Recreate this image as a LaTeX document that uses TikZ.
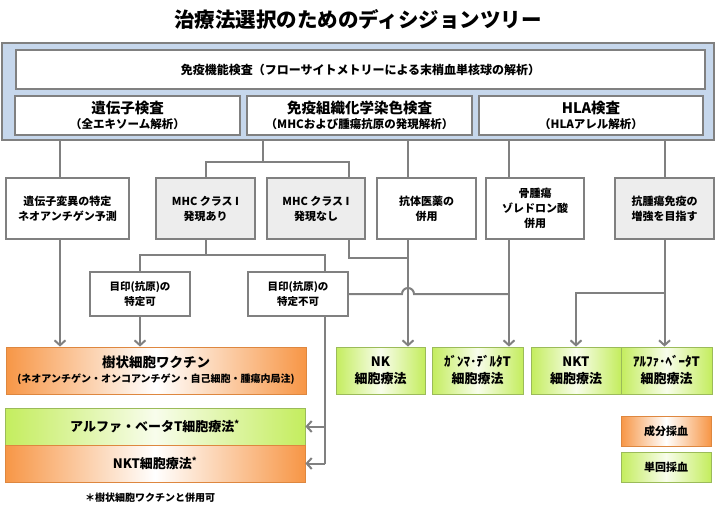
\documentclass[tikz,border=0pt]{standalone}
\usepackage{fontspec}
\setmainfont{Noto Sans CJK JP}
\usetikzlibrary{positioning,arrows.meta}
\definecolor{linegray}{HTML}{808080}
\definecolor{panelblue}{HTML}{C6D7EC}
\definecolor{boxgray}{HTML}{EDEDED}
\definecolor{orangefill}{HTML}{F79646}
\definecolor{greenfill}{HTML}{C4ED5E}
\definecolor{greenline}{HTML}{9BBB59}

\begin{document}
\begin{tikzpicture}
    [x=1pt,y=-1pt,
     box/.style={draw=linegray, line width=1.3pt, fill=white, align=center, inner sep=0pt, font=\fontsize{11}{15}\selectfont\bfseries},
     greybox/.style={box, fill=boxgray},
     orangebox/.style={box, draw=orangefill!90!black, line width=0.8pt, left color=orangefill, right color=orangefill, middle color=white},
     greenbox/.style={box, draw=greenline, line width=0.8pt, left color=greenfill, right color=greenfill, middle color=greenfill!12},
     link/.style={draw=linegray, line width=2pt},
     arrow/.style={link, -{Straight Barb[length=5pt,width=11pt,line width=2pt]}}]
  \useasboundingbox (0,0) rectangle (720,514);

  \node[font=\fontsize{20.5}{24}\selectfont\bfseries] (title) at (358,20) {治療法選択のためのディシジョンツリー};

  \node[draw=linegray, line width=1.3pt, fill=panelblue, minimum width=712pt, minimum height=97pt, inner sep=0pt] (panel) at (358,91.5) {};
  \node[box, minimum width=689pt, minimum height=39pt, font=\fontsize{12}{15}\selectfont\bfseries] (flow) at (360.5,69.5) {免疫機能検査（フローサイトメトリーによる末梢血単核球の解析）};
  \node[box, minimum width=225pt, minimum height=39pt] (gene) at (127.5,115.5) {\fontsize{14.5}{17}\selectfont 遺伝子検査\\\fontsize{11.5}{15}\selectfont （全エキソーム解析）};
  \node[box, minimum width=225pt, minimum height=39pt] (ihc) at (359.5,115.5) {\fontsize{14.5}{17}\selectfont 免疫組織化学染色検査\\\fontsize{11.5}{15}\selectfont （MHCおよび腫瘍抗原の発現解析）};
  \node[box, minimum width=224pt, minimum height=39pt] (hla) at (591,115.5) {\fontsize{14.5}{17}\selectfont HLA検査\\\fontsize{11.5}{15}\selectfont （HLAアレル解析）};

  \node[box, minimum width=123pt, minimum height=61pt] (mut) at (67.5,208.5) {遺伝子変異の特定\\ネオアンチゲン予測};
  \node[greybox, minimum width=99pt, minimum height=61pt] (mhcp) at (205.5,208.5) {MHC クラス I\\発現あり};
  \node[greybox, minimum width=98pt, minimum height=61pt] (mhcn) at (316,208.5) {MHC クラス I\\発現なし};
  \node[box, minimum width=99pt, minimum height=61pt] (abdrug) at (426.5,208.5) {抗体医薬の\\併用};
  \node[box, minimum width=98pt, minimum height=61pt] (zol) at (535,208.5) {骨腫瘍\\ゾレドロン酸\\併用};
  \node[greybox, minimum width=99pt, minimum height=61pt] (boost) at (664.5,208.5) {抗腫瘍免疫の\\増強を目指す};

  \node[box, minimum width=100pt, minimum height=44pt, font=\fontsize{10.5}{15}\selectfont\bfseries] (known) at (140,294) {目印(抗原)の\\特定可};
  \node[box, minimum width=100pt, minimum height=44pt, font=\fontsize{10.5}{15}\selectfont\bfseries] (unknown) at (298,294) {目印(抗原)の\\特定不可};

  \node[orangebox, minimum width=300pt, minimum height=47pt] (vaccine) at (156,370.5) {\fontsize{13.5}{17}\selectfont 樹状細胞ワクチン\\\fontsize{10}{14}\selectfont (ネオアンチゲン・オンコアンチゲン・自己細胞・腫瘍内局注)};
  \node[greenbox, minimum width=89pt, minimum height=47pt, font=\fontsize{13}{17}\selectfont\bfseries] (nk) at (380.5,370.5) {NK\\細胞療法};
  \node[greenbox, minimum width=91pt, minimum height=47pt, font=\fontsize{13}{17}\selectfont\bfseries] (gd) at (477.5,370.5) {ｶﾞﾝﾏ･ﾃﾞﾙﾀT\\細胞療法};
  \node[greenbox, minimum width=90pt, minimum height=47pt, font=\fontsize{13}{17}\selectfont\bfseries] (nkt) at (576,370.5) {NKT\\細胞療法};
  \node[greenbox, minimum width=91pt, minimum height=47pt, font=\fontsize{13}{17}\selectfont\bfseries] (ab) at (666.5,370.5) {ｱﾙﾌｧ･ﾍﾞｰﾀT\\細胞療法};

  \node[greenbox, minimum width=300pt, minimum height=37pt, font=\fontsize{13}{17}\selectfont\bfseries] (abwide) at (155,426.5) {アルファ・ベータT細胞療法\textsuperscript{*}};
  \node[orangebox, minimum width=300pt, minimum height=37pt, font=\fontsize{13}{17}\selectfont\bfseries] (nktwide) at (155,463.5) {NKT細胞療法\textsuperscript{*}};
  \node[font=\fontsize{10}{12}\selectfont\bfseries] (note) at (150,498) {＊樹状細胞ワクチンと併用可};

  \node[orangebox, minimum width=90pt, minimum height=30pt] (legor) at (666,431) {成分採血};
  \node[greenbox, minimum width=90pt, minimum height=30pt] (leggr) at (666,467) {単回採血};

  \coordinate (c1) at (60,0);
  \coordinate (c3) at (349,0);
  \coordinate (c4) at (408,0);
  \coordinate (c5) at (509,0);
  \coordinate (c9) at (325,0);
  \coordinate (split1) at (263,162);
  \coordinate (split2) at (205.5,255);
  \coordinate (split3) at (664.5,293);
  \coordinate (join1) at (408,258);
  \coordinate (hop) at (402,294);
  \coordinate (corner) at (325,463.5);

  \foreach \from/\to in {panel.south -| c1/mut.north -| c1, panel.south -| c4/abdrug.north -| c4, panel.south -| c5/zol.north -| c5, panel.south -| boost.north/boost.north, mhcp.south/split2, panel.south -| split1/split1}
    \draw[link] (\from) -- (\to);
  \draw[link] (mhcp.north) |- (split1) -| (mhcn.north -| c3);
  \draw[link] (known.north) |- (split2) -| (unknown.north -| c9);
  \draw[link] (mhcn.south -| c3) |- (join1);
  \draw[link] (unknown.east) -- (hop) arc[start angle=180, end angle=0, radius=6pt] -- (unknown.east -| c5);
  \draw[link] (unknown.south -| c9) -- (corner);

  \foreach \from/\to in {mut.south -| c1/vaccine.north -| c1, known.south/vaccine.north -| known.south, abdrug.south -| c4/nk.north -| c4, zol.south -| c5/gd.north -| c5, boost.south/ab.north -| boost.south, corner |- abwide.east/abwide.east, corner/nktwide.east}
    \draw[arrow] (\from) -- (\to);
  \draw[arrow] (split3) -| (nkt.north);
\end{tikzpicture}
\end{document}
